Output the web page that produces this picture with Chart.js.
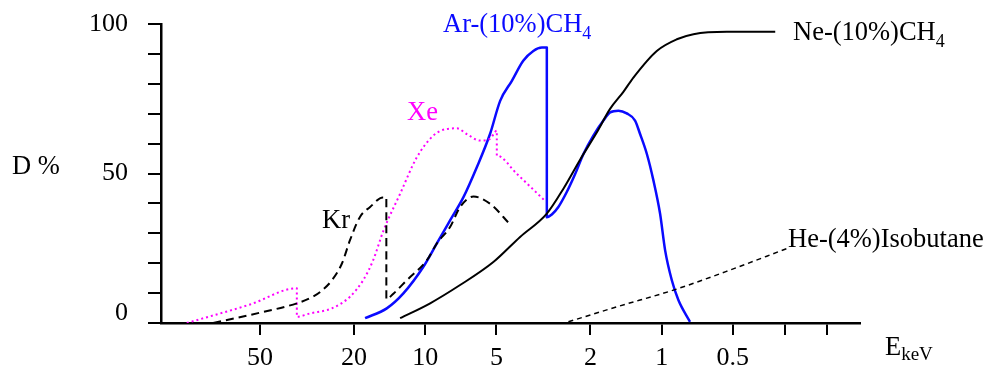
<!DOCTYPE html>
<html>
<head>
<meta charset="utf-8">
<script src="https://cdn.jsdelivr.net/npm/chart.js@4.4.1/dist/chart.umd.min.js"></script>
<style>
  html, body { margin: 0; padding: 0; background: #fff; }
  canvas { display: block; }
</style>
</head>
<body>
<canvas id="c" width="992" height="367"></canvas>
<script>
// ---- data (energy in keV, detection efficiency D in %) ----
const xTickValues = [50, 20, 10, 5, 2, 1, 0.5, 0.3, 0.2];
const xTickLabels = ['50', '20', '10', '5', '2', '1', '0.5', '', ''];
const yTickLabels = { 0: '0', 50: '50', 100: '100' };

const arE = [17.96, 14.54, 12.37, 10.18, 8.93, 7.85, 6.89, 6.05, 5.32, 4.82, 4.30, 3.85, 3.49, 3.21, 3.06, 3.06, 2.915, 2.735, 2.52, 2.32, 2.14, 1.945, 1.764, 1.653, 1.524, 1.405, 1.296, 1.234, 1.156, 1.084, 1.016, 0.967, 0.906, 0.850, 0.759];
const arD = [1.6, 4.9, 9.9, 18.8, 26.6, 34.3, 42.1, 52.1, 63.2, 74.3, 81, 87.7, 91, 92.1, 92.1, 35.4, 36.3, 38.8, 43.8, 49.9, 56.6, 62.7, 67.7, 70.4, 71, 70.1, 67.7, 63.2, 56.6, 47.7, 36.6, 24.3, 14.3, 7.7, 0.4];

const neE = [12.77, 9.53, 7.12, 5.15, 3.97, 3.06, 2.60, 2.21, 1.882, 1.653, 1.452, 1.317, 1.049, 0.863, 0.734, 0.530, 0.331];
const neD = [1.6, 6.6, 12.7, 20.4, 28.8, 36.6, 45, 54.7, 63.7, 71.6, 77.3, 82.1, 91, 94.9, 96.6, 97.4, 97.4];

const krE = [78.8, 55.0, 34.5, 30.7, 27.8, 24.8, 22.5, 20.8, 18.9, 17.1, 15.1, 14.6, 14.6, 13.6, 11.96, 9.84, 8.93, 7.85, 7.12, 6.25, 5.32, 4.38];
const krD = [0, 2.7, 6.7, 8.3, 10.4, 14.3, 19.9, 27.7, 35.4, 38.8, 42, 42, 8.0, 9.9, 14.3, 21, 26.6, 32.1, 38.8, 42.3, 39.9, 33];

const xeE = [101.9, 55.0, 34.9, 34.9, 30.7, 24.8, 20.8, 18.3, 16.6, 15.0, 12.77, 10.85, 9.23, 8.11, 7.35, 6.67, 5.86, 5.32, 4.98, 4.98, 4.10, 3.11];
const xeD = [0, 6.2, 11.6, 2.1, 3.2, 4.9, 8.8, 14.3, 21, 31, 43.2, 55.4, 62.7, 64.9, 65.1, 63.2, 61, 61.6, 64.3, 56, 49.9, 40.8];

const heE = [2.48, 1.549, 0.892, 0.514, 0.296];
const heD = [0.4, 5.4, 11, 17.7, 24.9];

// ---- helpers ----
const pts = (xs, ys) => xs.map((x, i) => ({ x: x, y: ys[i] }));
const SERIF = '"Liberation Serif", "Times New Roman", Times, serif';
Chart.defaults.font.family = SERIF;
Chart.defaults.color = '#000';

const BLUE = '#0a0aff';
const MAGENTA = '#ff00ff';

// text annotations (layout only)
const notes = [
  { t: 'Ar-(10%)CH', sub: '4', x: 443, y: 32, color: BLUE, size: 26.5, subSize: 18, subDy: 6.5 },
  { t: 'Ne-(10%)CH', sub: '4', x: 793, y: 40, color: '#000', size: 26.5, subSize: 18, subDy: 6.5 },
  { t: 'Xe', x: 407, y: 119.5, color: MAGENTA, size: 26.5 },
  { t: 'Kr', x: 322, y: 228, color: '#000', size: 26.5 },
  { t: 'He-(4%)Isobutane', x: 788, y: 247, color: '#000', size: 26.5 },
  { t: 'D %', x: 12, y: 173.5, color: '#000', size: 26.5 },
  { t: 'E', sub: 'keV', x: 885, y: 354.5, color: '#000', size: 26.5, subSize: 19, subDy: 5.5 }
];

const notesPlugin = {
  id: 'notes',
  afterDraw(chart) {
    const ctx = chart.ctx;
    ctx.save();
    ctx.textBaseline = 'alphabetic';
    ctx.textAlign = 'left';
    for (const n of notes) {
      ctx.fillStyle = n.color;
      ctx.font = n.size + 'px ' + SERIF;
      ctx.fillText(n.t, n.x, n.y);
      if (n.sub) {
        const w = ctx.measureText(n.t).width;
        ctx.font = n.subSize + 'px ' + SERIF;
        ctx.fillText(n.sub, n.x + w, n.y + n.subDy);
      }
    }
    ctx.restore();
  }
};

const common = { pointRadius: 0, fill: false, cubicInterpolationMode: 'monotone', borderCapStyle: 'butt', borderJoinStyle: 'round' };

new Chart(document.getElementById('c'), {
  type: 'line',
  data: {
    datasets: [
      Object.assign({ label: 'He-(4%)Isobutane', data: pts(heE, heD), borderColor: '#000', borderWidth: 1.5, borderDash: [5, 4] }, common),
      Object.assign({ label: 'Kr', data: pts(krE, krD), borderColor: '#000', borderWidth: 2, borderDash: [8, 5] }, common),
      Object.assign({ label: 'Xe', data: pts(xeE, xeD), borderColor: MAGENTA, borderWidth: 2, borderDash: [2, 3] }, common),
      Object.assign({ label: 'Ne-(10%)CH4', data: pts(neE, neD), borderColor: '#000', borderWidth: 2 }, common),
      Object.assign({ label: 'Ar-(10%)CH4', data: pts(arE, arD), borderColor: BLUE, borderWidth: 2.5 }, common)
    ]
  },
  options: {
    responsive: false,
    animation: false,
    events: [],
    layout: { padding: { top: 24, right: 132, left: 0, bottom: 0 } },
    plugins: { legend: { display: false }, tooltip: { enabled: false } },
    scales: {
      x: {
        type: 'logarithmic',
        reverse: true,
        min: 0.145,
        max: 131,
        afterBuildTicks: (s) => { s.ticks = xTickValues.map(v => ({ value: v })); },
        afterFit: (s) => { s.height = 44; s.paddingLeft = 0; s.paddingRight = 0; },
        border: { display: true, color: '#000', width: 2.5 },
        grid: { display: true, drawOnChartArea: false, drawTicks: true, tickLength: 12, color: '#000', lineWidth: 2 },
        ticks: {
          autoSkip: false,
          maxRotation: 0,
          padding: 8,
          font: { size: 26, family: SERIF },
          color: '#000',
          callback: (v) => { const i = xTickValues.indexOf(v); return i >= 0 ? xTickLabels[i] : ''; }
        }
      },
      y: {
        type: 'linear',
        min: 0,
        max: 100,
        afterFit: (s) => { s.width = 161; s.paddingTop = 0; s.paddingBottom = 0; },
        border: { display: true, color: '#000', width: 2.5 },
        grid: { display: true, drawOnChartArea: false, drawTicks: true, tickLength: 13, color: '#000', lineWidth: 2 },
        ticks: {
          stepSize: 10,
          autoSkip: false,
          padding: 20,
          font: { size: 26, family: SERIF, lineHeight: 0.75 },
          color: '#000',
          callback: (v) => {
            const lab = yTickLabels[v];
            if (lab === undefined) return '';
            return v === 0 ? [lab, ''] : lab;
          }
        }
      }
    }
  },
  plugins: [notesPlugin]
});
</script>
</body>
</html>
